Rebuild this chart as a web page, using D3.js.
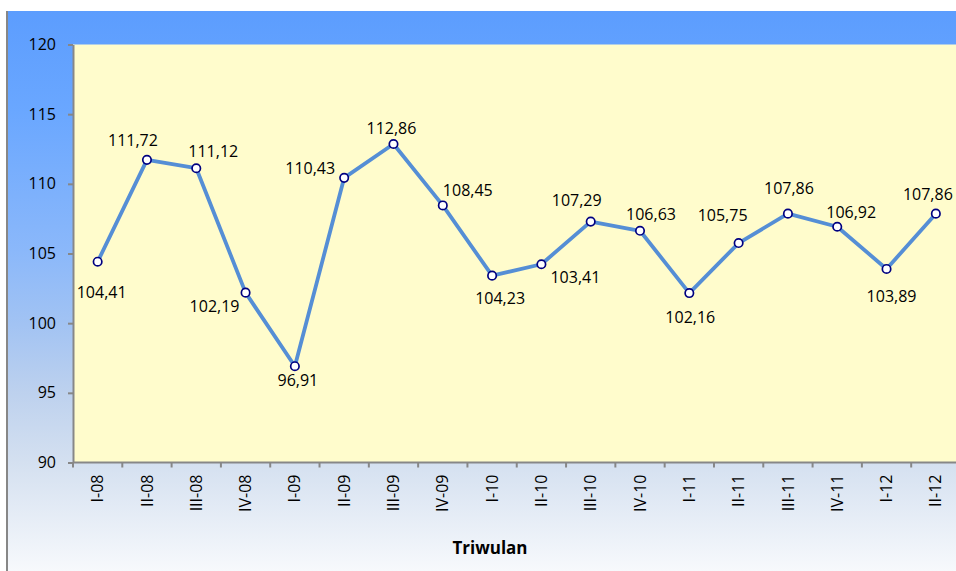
<!DOCTYPE html>
<html>
<head>
<meta charset="UTF-8">
<title>Triwulan</title>
<script src="https://cdn.jsdelivr.net/npm/d3@7"></script>
<style>
  body { margin: 0; background: #fff; }
  text { font-family: "Open Sans", "Noto Sans", sans-serif; fill: #000; }
</style>
</head>
<body>
<div id="chart"></div>
<script>
// data
var quarters = ["I-08", "II-08", "III-08", "IV-08", "I-09", "II-09", "III-09", "IV-09",
                "I-10", "II-10", "III-10", "IV-10", "I-11", "II-11", "III-11", "IV-11", "I-12", "II-12"];
var indexValues = [104.41, 111.72, 111.12, 102.19, 96.91, 110.43, 112.86, 108.45,
                   103.41, 104.23, 107.29, 106.63, 102.16, 105.75, 107.86, 106.92, 103.89, 107.86];
// label text as printed on the chart (I-10 / II-10 appear swapped in the original)
var labelText = ["104,41", "111,72", "111,12", "102,19", "96,91", "110,43", "112,86", "108,45",
                 "104,23", "103,41", "107,29", "106,63", "102,16", "105,75", "107,86", "106,92", "103,89", "107,86"];
var yTicks = [90, 95, 100, 105, 110, 115, 120];
var axisTitle = "Triwulan";

// label nudges relative to each marker (dx, dy to baseline)
var labelNudge = [[4, 36], [-14, -14], [17, -11], [-31, 19], [3, 20], [-34, -4], [-2, -10], [25, -9],
                  [8, 28], [34, 19], [-14, -16], [11, -11], [1, 30], [-16, -22], [1, -20], [14, -9], [5, 33], [-8, -14]];

var W = 956, H = 571;
var plotL = 73, plotR = 960.5, plotT = 44.5, plotB = 462.5;

var svg = d3.select("#chart").append("svg").attr("width", W).attr("height", H);

var grad = svg.append("defs").append("linearGradient").attr("id", "bg")
  .attr("x1", 0).attr("y1", 0).attr("x2", 0).attr("y2", 1);
[[0, "#5c9dfe"], [0.18, "#6aa7ff"], [0.43, "#8bb8fa"], [0.56, "#a2c3f3"],
 [0.68, "#bdd1ee"], [0.805, "#d4e0f0"], [1, "#f7f9fc"]].forEach(function (s) {
  grad.append("stop").attr("offset", s[0]).attr("stop-color", s[1]);
});

// chart area
svg.append("rect").attr("x", 7).attr("y", 11).attr("width", W).attr("height", H - 11).attr("fill", "url(#bg)");
svg.append("line").attr("x1", 7).attr("x2", 7).attr("y1", 11).attr("y2", H)
  .attr("stroke", "#878787").attr("stroke-width", 2);

// plot area
svg.append("rect").attr("x", plotL).attr("y", plotT).attr("width", plotR - plotL).attr("height", plotB - plotT)
  .attr("fill", "#fffccc");

var x = d3.scaleBand().domain(quarters).range([plotL, plotR]);
var y = d3.scaleLinear().domain([90, 120]).range([plotB, plotT]);

// y axis
var yAxis = svg.append("g").attr("transform", "translate(" + plotL + ",0)")
  .call(d3.axisLeft(y).tickValues(yTicks).tickSize(5).tickSizeOuter(0).tickPadding(12));
yAxis.select(".domain").attr("stroke", "#878787").attr("stroke-width", 2);
yAxis.selectAll(".tick line").attr("stroke", "#878787").attr("stroke-width", 2);
yAxis.selectAll(".tick text").style("font-size", "16px").attr("fill", "#000");

// x axis: ticks on category boundaries
var xg = svg.append("g");
xg.append("line").attr("x1", plotL).attr("x2", plotR).attr("y1", plotB).attr("y2", plotB)
  .attr("stroke", "#878787").attr("stroke-width", 2);
xg.selectAll(".xt").data(quarters.concat(["end"])).enter().append("line")
  .attr("x1", function (d, i) { return plotL + i * x.step(); })
  .attr("x2", function (d, i) { return plotL + i * x.step(); })
  .attr("y1", plotB).attr("y2", plotB + 5)
  .attr("stroke", "#878787").attr("stroke-width", 2);
xg.selectAll(".xl").data(quarters).enter().append("text")
  .attr("transform", function (d) {
    return "translate(" + (x(d) + x.bandwidth() / 2) + "," + (plotB + 12) + ") rotate(-90)";
  })
  .attr("text-anchor", "end").attr("dy", "0.35em")
  .style("font-size", "16px")
  .text(function (d) { return d; });

svg.append("text").attr("x", 490).attr("y", 554).attr("text-anchor", "middle")
  .style("font-size", "17px").style("font-weight", "bold").text(axisTitle);

// series
var line = d3.line()
  .x(function (d, i) { return x(quarters[i]) + x.bandwidth() / 2; })
  .y(function (d) { return y(d); });

svg.append("path").datum(indexValues).attr("d", line)
  .attr("fill", "none").attr("stroke", "#558ed5").attr("stroke-width", 3.8).attr("stroke-linejoin", "round");

svg.selectAll(".pt").data(indexValues).enter().append("circle")
  .attr("cx", function (d, i) { return x(quarters[i]) + x.bandwidth() / 2; })
  .attr("cy", function (d) { return y(d); })
  .attr("r", 4.2).attr("fill", "#fff").attr("stroke", "#000080").attr("stroke-width", 1.7);

svg.selectAll(".lbl").data(indexValues).enter().append("text")
  .attr("x", function (d, i) { return x(quarters[i]) + x.bandwidth() / 2 + labelNudge[i][0]; })
  .attr("y", function (d, i) { return y(d) + labelNudge[i][1]; })
  .attr("text-anchor", "middle").style("font-size", "16px")
  .text(function (d, i) { return labelText[i]; });
</script>
</body>
</html>
